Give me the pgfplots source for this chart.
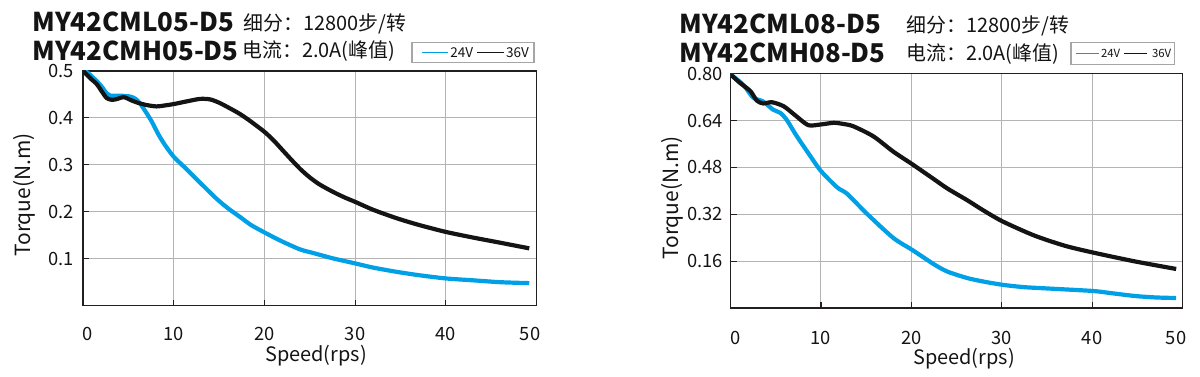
\documentclass[border=0pt]{standalone}
\usepackage{pgfplots}
\pgfplotsset{compat=1.18}
\usepackage{fontspec}
\setmainfont{Noto Sans CJK SC}
\definecolor{cblue}{RGB}{0,160,230}
\definecolor{cblack}{RGB}{20,20,20}
\definecolor{cgrid}{RGB}{180,180,180}
\definecolor{caxis}{RGB}{35,31,32}
\pgfplotsset{
  mychart/.style={
    scale only axis,
    anchor=south west,
    xmin=0, xmax=50, ymin=0,
    axis line style={caxis, line width=0.8bp},
    grid=major,
    major grid style={cgrid, line width=0.55bp},
    tick style={caxis, line width=0.6bp},
    major tick length=3bp,
    tick pos=left,
    xtick={0,10,20,30,40,50},
    xticklabels={{\kern5bp 0},10,20,30,40,{50\kern6.5bp}},
    tick label style={font=\fontsize{9.2}{10}\selectfont, text=cblack},
    xticklabel style={anchor=north, inner sep=0pt, yshift=-10.5bp},
    yticklabel style={anchor=east, inner sep=0pt},
    every axis plot/.append style={line width=2.1bp, smooth, tension=0.45, no marks},
  }
}
\begin{document}
\begin{tikzpicture}
\path[use as bounding box] (0,0) rectangle (600bp,188.5bp);
% ---------- left chart ----------
\begin{axis}[mychart,
  at={(41.5bp,35.65bp)}, width=226.75bp, height=117.5bp,
  ymax=0.5,
  ytick={0.1,0.2,0.3,0.4,0.5},
  yticklabels={0.1,0.2,0.3,0.4,0.5},
  yticklabel style={xshift=-4.5bp},
]
\addplot[cblue] coordinates {
(0,0.503) (0.8,0.491) (1.9,0.470) (2.6,0.452) (3,0.447) (4,0.447) (5.2,0.445) (5.8,0.440) (6.3,0.430) (7,0.410) (7.6,0.391) (8.3,0.365) (9,0.343) (10,0.317) (11.5,0.289) (12.9,0.262) (14.7,0.228) (16,0.207) (17.3,0.189) (18.5,0.172) (19.9,0.157) (21.7,0.139) (23.9,0.120) (25.4,0.112) (27.5,0.101) (30,0.090) (32,0.081) (34.6,0.072) (37,0.065) (40,0.058) (43,0.054) (46,0.050) (49.2,0.048)
};
\addplot[cblack] coordinates {
(0,0.500) (0.8,0.484) (1.5,0.472) (2.0,0.458) (2.6,0.442) (3.2,0.438) (3.8,0.440) (4.5,0.444) (5.2,0.438) (6,0.432) (7,0.427) (8.1,0.424) (9,0.426) (10,0.429) (11.5,0.435) (12.9,0.440) (14,0.439) (15,0.432) (16,0.422) (17.3,0.408) (18.5,0.392) (20,0.370) (21,0.352) (22,0.331) (23,0.310) (24,0.290) (25,0.273) (26,0.259) (27,0.248) (28,0.238) (29,0.229) (30,0.221) (32,0.204) (34.6,0.186) (37,0.172) (40,0.157) (43,0.145) (46,0.134) (49.2,0.122)
};
\end{axis}
% ---------- right chart ----------
\begin{axis}[mychart,
  at={(365.25bp,34.35bp)}, width=226bp, height=117.4bp,
  ymax=0.8,
  ytick={0.16,0.32,0.48,0.64,0.8},
  yticklabels={0.16,0.32,0.48,0.64,0.80},
  yticklabel style={xshift=-3.5bp},
  xticklabel style={yshift=-0.5bp},
]
\addplot[cblue] coordinates {
(0,0.797) (1.4,0.762) (2.5,0.718) (3.6,0.705) (4.7,0.677) (5.5,0.666) (6.2,0.643) (7.3,0.588) (8.8,0.520) (10,0.468) (11.8,0.412) (12.9,0.390) (15.1,0.322) (18,0.240) (20.1,0.199) (22.5,0.150) (24,0.125) (26.2,0.103) (28,0.091) (30.1,0.080) (32.5,0.072) (35.4,0.067) (40.1,0.059) (42,0.052) (44.7,0.042) (47,0.037) (49.3,0.035)
};
\addplot[cblack] coordinates {
(0,0.797) (1.05,0.768) (2.2,0.740) (2.9,0.708) (3.6,0.698) (4.6,0.702) (5.9,0.688) (7.3,0.654) (8.6,0.624) (9.9,0.626) (11.4,0.632) (12.5,0.628) (13.6,0.620) (15.8,0.586) (18,0.534) (20.1,0.491) (22.5,0.440) (24,0.408) (26.2,0.368) (28,0.333) (30.1,0.296) (33.6,0.248) (37,0.213) (40.1,0.190) (44.7,0.160) (49.3,0.134)
};
\end{axis}
% ---------- axis labels ----------
\node[rotate=90, font=\fontsize{10.5}{12}\selectfont, text=cblack] at (12.25bp,91bp) {Torque(N.m)};
\node[rotate=90, font=\fontsize{10.5}{12}\selectfont, text=cblack] at (336.1bp,89.5bp) {Torque(N.m)};
\node[font=\fontsize{10}{12}\selectfont, text=cblack] at (158bp,10.75bp) {Speed(rps)};
\node[font=\fontsize{10}{12}\selectfont, text=cblack] at (482bp,9.35bp) {Speed(rps)};
% ---------- titles ----------
\node[anchor=base west, inner sep=0pt, font=\fontsize{13}{15}\selectfont\bfseries, text=cblack] at (16bp,172.5bp) {MY42CML05-D5};
\node[anchor=base west, inner sep=0pt, font=\fontsize{13}{15}\selectfont\bfseries, text=cblack] at (16bp,158bp) {MY42CMH05-D5};
\node[anchor=base west, inner sep=0pt, font=\fontsize{10}{12}\selectfont, text=cblack] at (121.5bp,173bp) {细分：12800步/转};
\node[anchor=base west, inner sep=0pt, font=\fontsize{10}{12}\selectfont, text=cblack] at (121bp,159.5bp) {电流：2.0A(峰值)};
\node[anchor=base west, inner sep=0pt, font=\fontsize{13}{15}\selectfont\bfseries, text=cblack] at (339.5bp,171.5bp) {MY42CML08-D5};
\node[anchor=base west, inner sep=0pt, font=\fontsize{13}{15}\selectfont\bfseries, text=cblack] at (339.5bp,157bp) {MY42CMH08-D5};
\node[anchor=base west, inner sep=0pt, font=\fontsize{10}{12}\selectfont, text=cblack] at (453bp,172bp) {细分：12800步/转};
\node[anchor=base west, inner sep=0pt, font=\fontsize{10}{12}\selectfont, text=cblack] at (453bp,158bp) {电流：2.0A(峰值)};
% ---------- legends ----------
\draw[gray!70, line width=0.6bp] (206bp,157.15bp) rectangle (267bp,167.15bp);
\draw[cblue, line width=0.8bp] (210.85bp,162.15bp) -- (224bp,162.15bp);
\node[anchor=west, inner sep=0pt, font=\fontsize{6.8}{8}\selectfont, text=cblack] at (225bp,162.15bp) {24V};
\draw[cblack, line width=0.8bp] (238.5bp,162.15bp) -- (252bp,162.15bp);
\node[anchor=west, inner sep=0pt, font=\fontsize{6.8}{8}\selectfont, text=cblack] at (252.85bp,162.15bp) {36V};
\draw[gray!70, line width=0.6bp] (535.5bp,156.15bp) rectangle (587.15bp,167.15bp);
\draw[cblue, line width=0.8bp] (537.85bp,161.65bp) -- (549.65bp,161.65bp);
\node[anchor=west, inner sep=0pt, font=\fontsize{5.7}{7}\selectfont, text=cblack] at (550.35bp,161.65bp) {24V};
\draw[cblack, line width=0.8bp] (562bp,161.65bp) -- (573.5bp,161.65bp);
\node[anchor=west, inner sep=0pt, font=\fontsize{5.7}{7}\selectfont, text=cblack] at (575.85bp,161.65bp) {36V};
\end{tikzpicture}
\end{document}
